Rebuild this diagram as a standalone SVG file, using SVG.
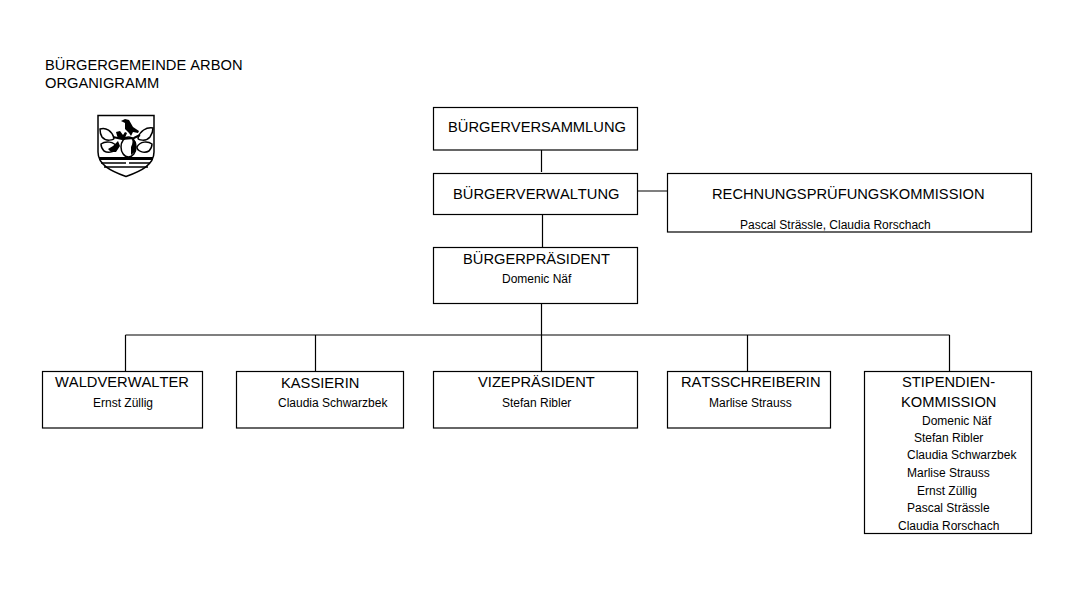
<svg xmlns="http://www.w3.org/2000/svg" width="1091" height="591" viewBox="0 0 1091 591">
<style>
.b{fill:#fff;stroke:#000;stroke-width:1.2}
.c{fill:none;stroke:#000;stroke-width:1.2}
text{font-family:"Liberation Sans",Arial,sans-serif;fill:#000;font-kerning:none}
.t{font-size:14.7px}
.s{font-size:12px}
.l{fill:#fff;stroke:#000;stroke-width:1.5}
</style>
<rect width="1091" height="591" fill="#fff"/>
<g id="title"><text class="t" x="45" y="69.500">BÜRGERGEMEINDE ARBON</text><text class="t" x="45" y="87.500">ORGANIGRAMM</text></g>
<g id="crest">
<path d="M98 115.500H154V152C154 165 141 171 126 176.500C111 171 98 165 98 152Z" fill="#fff" stroke="#000" stroke-width="1.5"/>
<path d="M121 121L125 119L129 120L133 127L139 131L138 133L133 132L131 136L129 133L125 129L125 123Z" fill="#000"/>
<path d="M100 129C106 127 112 131 114 138C114 140 106 142 102 137C100 134 100 131 100 129Z" class="l"/>
<path d="M153 128C146 127 140 131 138 138C138 140 146 142 150 137C152 134 153 131 153 128Z" class="l"/>
<path d="M101 144C105 141 114 141 117 147C117 151 109 154 104 151C102 149 101 146 101 144Z" class="l"/>
<path d="M152 144C148 141 140 141 137 147C137 151 144 154 149 151C151 149 152 146 152 144Z" class="l"/>
<ellipse cx="128.500" cy="147" rx="7.500" ry="10" class="l" stroke-width="2"/>
<path d="M131 147C133 143 133 140 131 138L136 142L136 151L131 155Z" fill="#000"/>
<path d="M113 137L122 139L134 138L140 135" fill="none" stroke="#000" stroke-width="2"/>
<path d="M116 132L120 131L123 135L125 132L127 133L125 138L118 139Z" fill="#000"/>
<path d="M108 149L113 146L118 141L120 146L116 152L111 152Z" fill="#000"/>
<path d="M99 157H153V160H99Z" fill="#000"/>
<path d="M101 163H126M129 163H150" stroke="#000" stroke-width="1.5"/>
<path d="M104 167H148" stroke="#000" stroke-width="1.5"/>
</g>
<g id="connectors">
<path class="c" d="M541.500 149V172M542.500 213V247M637 191H667M541.500 303V335M125.500 335H949.500M125.500 335V372M315.500 335V372M541.500 335V372M747.500 335V372M949.500 335V372"/>
</g>
<g id="n1"><rect class="b" x="433.500" y="107.500" width="204" height="42.500"/><text class="t" x="448" y="132">BÜRGERVERSAMMLUNG</text></g>
<g id="n2"><rect class="b" x="433.500" y="173.500" width="204" height="41"/><text class="t" x="453" y="198.500">BÜRGERVERWALTUNG</text></g>
<g id="n3"><rect class="b" x="667.500" y="173.500" width="364" height="58.500"/><text class="t" x="712" y="198.500">RECHNUNGSPRÜFUNGSKOMMISSION</text><text class="s" x="740" y="229">Pascal Strässle, Claudia Rorschach</text></g>
<g id="n4"><rect class="b" x="433.500" y="247.500" width="204" height="56"/><text class="t" x="463" y="263.500">BÜRGERPRÄSIDENT</text><text class="s" x="502" y="283">Domenic Näf</text></g>
<g id="n5"><rect class="b" x="42.500" y="371.500" width="160" height="56.500"/><text class="t" x="55" y="387">WALDVERWALTER</text><text class="s" x="93" y="407">Ernst Züllig</text></g>
<g id="n6"><rect class="b" x="236.500" y="371.500" width="167" height="56.500"/><text class="t" x="281" y="387.500">KASSIERIN</text><text class="s" x="278" y="407">Claudia Schwarzbek</text></g>
<g id="n7"><rect class="b" x="433.500" y="371.500" width="204" height="56.500"/><text class="t" x="478" y="387">VIZEPRÄSIDENT</text><text class="s" x="502" y="407">Stefan Ribler</text></g>
<g id="n8"><rect class="b" x="667.500" y="371.500" width="163" height="56.500"/><text class="t" x="681" y="387">RATSSCHREIBERIN</text><text class="s" x="709" y="407">Marlise Strauss</text></g>
<g id="n9"><rect class="b" x="864.500" y="371.500" width="167" height="162"/><text class="t" x="902" y="387">STIPENDIEN-</text><text class="t" x="901" y="407">KOMMISSION</text>
<text class="s" x="922" y="425">Domenic Näf</text><text class="s" x="914" y="442">Stefan Ribler</text><text class="s" x="907" y="459">Claudia Schwarzbek</text><text class="s" x="907" y="477">Marlise Strauss</text><text class="s" x="917" y="495">Ernst Züllig</text><text class="s" x="907" y="512">Pascal Strässle</text><text class="s" x="898" y="530">Claudia Rorschach</text></g>
</svg>
